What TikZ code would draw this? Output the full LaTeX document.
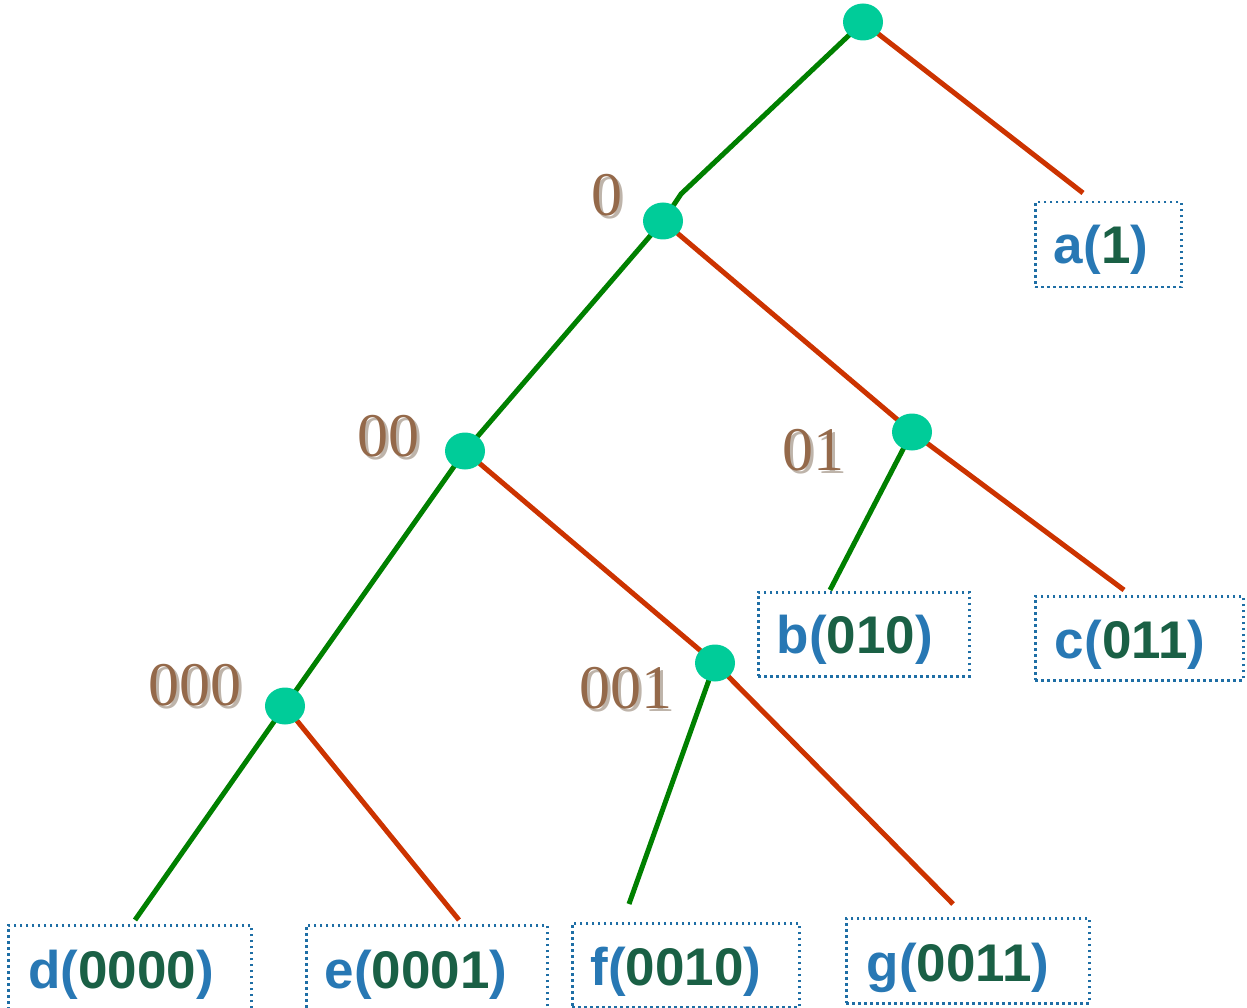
\documentclass[tikz,border=0pt]{standalone}
\usepackage{fontspec}
\setmainfont{Liberation Serif}
\newfontfamily\leaffont{Liberation Sans}
\usetikzlibrary{shapes.geometric}
\definecolor{edgegreen}{RGB}{0,128,0}
\definecolor{edgered}{RGB}{204,51,0}
\definecolor{dotfill}{RGB}{0,204,153}
\definecolor{boxblue}{RGB}{30,110,165}
\definecolor{tblue}{RGB}{40,120,180}
\definecolor{tgreen}{RGB}{26,96,69}
\definecolor{labbrown}{RGB}{148,105,74}
\definecolor{labshadow}{RGB}{190,180,170}
\newcommand\leaftxt[2]{{\leaffont\bfseries\color{tblue}#1(\textcolor{tgreen}{#2})}}
\newcommand\shadowtxt[1]{\makebox[0pt][l]{\hspace{3pt}\raisebox{-3pt}{\textcolor{labshadow}{#1}}}\textcolor{labbrown}{#1}}
\tikzset{
  tnode/.style={ellipse,fill=dotfill,minimum width=40pt,minimum height=37pt,inner sep=0pt},
  gedge/.style={draw=edgegreen,line width=5pt},
  redge/.style={draw=edgered,line width=5pt},
  leafbox/.style={draw=boxblue,line width=2.5pt,dash pattern=on 2.5pt off 3.5pt,inner sep=0pt,anchor=north west},
  leaflabel/.style={font=\fontsize{53}{60}\selectfont,inner sep=0pt,anchor=base},
  codelab/.style={font=\fontsize{62}{70}\selectfont,inner sep=0pt,anchor=base}
}
\begin{document}
\begin{tikzpicture}[x=1pt,y=-1pt]
\useasboundingbox (0,0) rectangle (1247,1008);
% boxes
\node[leafbox,minimum width=146pt,minimum height=85pt] (ba) at (1034,201) {};
\node[leafbox,minimum width=211pt,minimum height=84pt] (bb) at (757,591) {};
\node[leafbox,minimum width=208pt,minimum height=84pt] (bc) at (1034,595) {};
\node[leafbox,minimum width=243pt,minimum height=92pt] (bd) at (7,924) {};
\node[leafbox,minimum width=241pt,minimum height=92pt] (be) at (305,924) {};
\node[leafbox,minimum width=227pt,minimum height=84pt] (bf) at (571,922) {};
\node[leafbox,minimum width=243pt,minimum height=85pt] (bg) at (845,917) {};
% leaf texts
\node[leaflabel] (ta) at (1101,264) {\leaftxt{a}{1}};
\node[leaflabel] (tb) at (855,653) {\leaftxt{b}{010}};
\node[leaflabel] (tc) at (1130,658) {\leaftxt{c}{011}};
\node[leaflabel] (td) at (121,988) {\leaftxt{d}{0000}};
\node[leaflabel] (te) at (416,988) {\leaftxt{e}{0001}};
\node[leaflabel] (tf) at (676,985) {\leaftxt{f}{0010}};
\node[leaflabel] (tg) at (958,981) {\leaftxt{g}{0011}};
% tree nodes
\coordinate (r) at (863,22);
\coordinate (n0) at (663,221);
\coordinate (n00) at (465,451);
\coordinate (n01) at (912,432);
\coordinate (n000) at (285,706);
\coordinate (n001) at (715,663);
\coordinate (kink) at (681,194);
\coordinate (ea) at (1083,193);
\coordinate (eb) at (830,590);
\coordinate (ec) at (1124,590);
\coordinate (ed) at (135,920);
\coordinate (ee) at (459,920);
\coordinate (ef) at (629,904);
\coordinate (eg) at (953,904);
% edges
\draw[gedge] (r) -- (kink) -- (n0);
\draw[redge] (r) -- (ea);
\draw[gedge] (n0) -- (n00);
\draw[redge] (n0) -- (n01);
\draw[gedge] (n01) -- (eb);
\draw[redge] (n01) -- (ec);
\draw[gedge] (n00) -- (n000);
\draw[redge] (n00) -- (n001);
\draw[gedge] (n000) -- (ed);
\draw[redge] (n000) -- (ee);
\draw[gedge] (n001) -- (ef);
\draw[redge] (n001) -- (eg);
% dots
\node[tnode] (dr) at (r) {};
\node[tnode] (d0) at (n0) {};
\node[tnode] (d00) at (n00) {};
\node[tnode] (d01) at (n01) {};
\node[tnode] (d000) at (n000) {};
\node[tnode] (d001) at (n001) {};
% code labels
\node[codelab] (l0) at (607,216) {\shadowtxt{0}};
\node[codelab] (l00) at (388,456) {\shadowtxt{00}};
\node[codelab] (l01) at (813,470) {\shadowtxt{01}};
\node[codelab] (l000) at (195,705) {\shadowtxt{000}};
\node[codelab] (l001) at (626,708) {\shadowtxt{001}};
\end{tikzpicture}
\end{document}
